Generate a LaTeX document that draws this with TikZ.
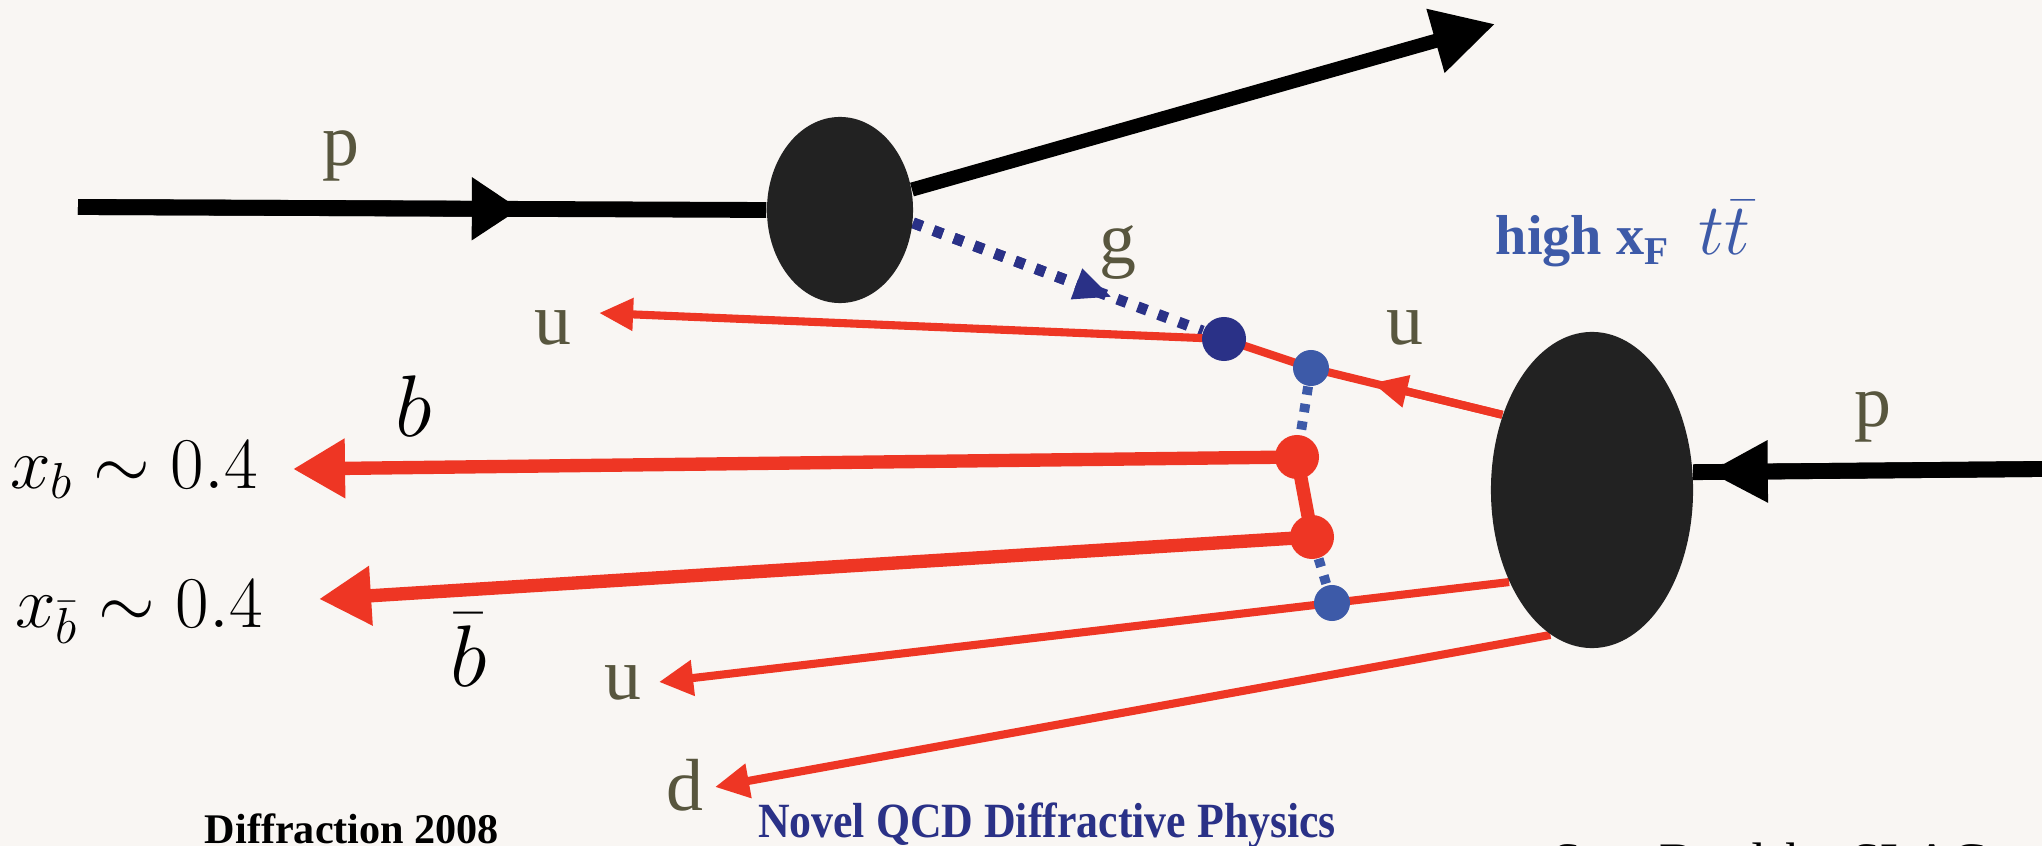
\documentclass[tikz,border=0pt]{standalone}
\usepackage[no-math]{fontspec}
\setmainfont{Liberation Serif}
\usepackage{graphicx}
\usetikzlibrary{arrows.meta, shapes.geometric, calc}
\definecolor{paper}{RGB}{249,246,243}
\definecolor{blobgray}{RGB}{34,34,34}
\definecolor{qred}{RGB}{238,54,36}
\definecolor{gluonblue}{RGB}{42,49,135}
\definecolor{qblue}{RGB}{61,90,168}
\definecolor{olive}{RGB}{88,86,62}
\pgfdeclarelayer{back}
\pgfsetlayers{back,main}

\begin{document}
\begin{tikzpicture}[x=0.01cm, y=-0.01cm,
    blob/.style={ellipse, fill=blobgray, inner sep=0pt},
    vertex/.style={circle, inner sep=0pt, minimum size=0.36cm},
    bigvertex/.style={vertex, minimum size=0.44cm},
    beam/.style={black, line width=4.5pt},
    quark/.style={qred, line width=2.3pt},
    heavy/.style={qred, line width=3.8pt},
    gluon/.style={gluonblue, line width=3.1pt, dash pattern=on 2.8pt off 3.4pt},
    link/.style={qblue, line width=2.8pt, dash pattern=on 2.4pt off 2.6pt},
    parton/.style={olive, font=\fontsize{21}{25}\selectfont},
    mathlbl/.style={font=\fontsize{20}{24}\selectfont}]

\begin{pgfonlayer}{back}
\fill[paper] (0,0) rectangle (2042,846);
\end{pgfonlayer}
\useasboundingbox (0,0) rectangle (2042,846);

% hadrons
\node[blob, minimum width=1.46cm, minimum height=1.86cm] (pA) at (840,210) {};
\node[blob, minimum width=2.02cm, minimum height=3.16cm] (pB) at (1592,490) {};

% partons
\node[bigvertex, fill=gluonblue] (gq) at (1224,339) {};
\node[vertex, fill=qblue] (uq1) at (1311,368) {};
\node[bigvertex, fill=qred] (bq) at (1297,457) {};
\node[bigvertex, fill=qred] (bbq) at (1312,537) {};
\node[vertex, fill=qblue] (uq2) at (1332,603) {};

\coordinate (pin) at (78,207);
\coordinate (pmid) at (520,209);
\coordinate (pout) at (1495,24);
\coordinate (pinR) at (2042,469);
\coordinate (pmidR) at (1708,472);
\coordinate (gmid) at ($(pA.350)!0.64!(gq)$);
\coordinate (umid) at ($(pB.140)!0.68!(uq1)$);
\coordinate (utipA) at (599,313);
\coordinate (btip) at (293,469);
\coordinate (bbtip) at (319,599);
\coordinate (utipB) at (659,682);
\coordinate (dtip) at (715,787);

\begin{pgfonlayer}{back}
\draw[beam] (pin) -- (pA.west);
\draw[beam, -{Triangle[length=13.7pt, width=17pt]}] (pin) -- (pmid);
\draw[beam, line width=4pt, -{Triangle[length=17.6pt, width=17.8pt]}] (pA) -- (pout);
\draw[beam] (pinR) -- (pB.10);
\draw[beam, -{Triangle[length=17pt, width=16.5pt]}] (pinR) -- (pmidR);

\draw[gluon] (pA.350) -- (gq);
\draw[gluon, -{Triangle[length=10.8pt, width=8.5pt]}] (pA.350) -- (gmid);

\draw[quark] (pB.140) -- (uq1.center);
\draw[quark, -{Triangle[length=10pt, width=8.8pt]}] (pB.140) -- (umid);
\draw[quark, -{Triangle[length=9.7pt, width=8.8pt]}] (uq1.center) -- (gq.center) -- (utipA);
\draw[heavy, -{Triangle[length=14.8pt, width=16pt]}] (bq.center) -- (btip);
\draw[heavy] (bq.center) -- (bbq.center);
\draw[heavy, -{Triangle[length=14.8pt, width=16pt]}] (bbq.center) -- (bbtip);
\draw[quark, -{Triangle[length=9.7pt, width=9.7pt]}] (pB.228) -- (uq2.center) -- (utipB);
\draw[quark, -{Triangle[length=9.7pt, width=9.4pt]}] (pB.254) -- (dtip);

\draw[link] (uq1) -- (bq);
\draw[link] (bbq) -- (uq2);
\end{pgfonlayer}

% labels
\node[parton] (pAlbl) at (341,156) {p};
\node[parton] (glbl) at (1118,253) {g};
\node[parton] (uAlbl) at (553,328) {u};
\node[parton] (uRlbl) at (1405,328) {u};
\node[parton] (uBlbl) at (623,683) {u};
\node[parton] (dlbl) at (685,785) {d};
\node[parton] (pBlbl) at (1873,417) {p};
\node[mathlbl] (xb) at (134,470) {$x_b \sim 0.4$};
\node[mathlbl] (xbb) at (139,612) {$x_{\bar b} \sim 0.4$};
\node[font=\fontsize{27}{32}\selectfont] (blbl) at (414,406) {$b$};
\node[font=\fontsize{27}{32}\selectfont] (bblbl) at (469,650) {$\bar b$};
\node[anchor=base west, inner sep=0pt, qblue] (hxf) at (1495,255)
  {\fontsize{16}{19}\selectfont\bfseries high x\textsubscript{F}\hspace{0.5em}\fontsize{20}{24}\selectfont$t\bar t$};
\node[anchor=base, inner sep=0pt, gluonblue, font=\fontsize{14}{17}\selectfont\bfseries] (talk) at (1047,837)
  {\scalebox{0.89}[1]{Novel QCD Diffractive Physics}};
\node[anchor=base, inner sep=0pt, font=\fontsize{12}{14}\selectfont\bfseries] (conf) at (352,843) {Diffraction 2008};
\node[anchor=base west, inner sep=0pt, font=\fontsize{15}{18}\selectfont] (author) at (1552,879) {Stan Brodsky SLAC};
\end{tikzpicture}
\end{document}
